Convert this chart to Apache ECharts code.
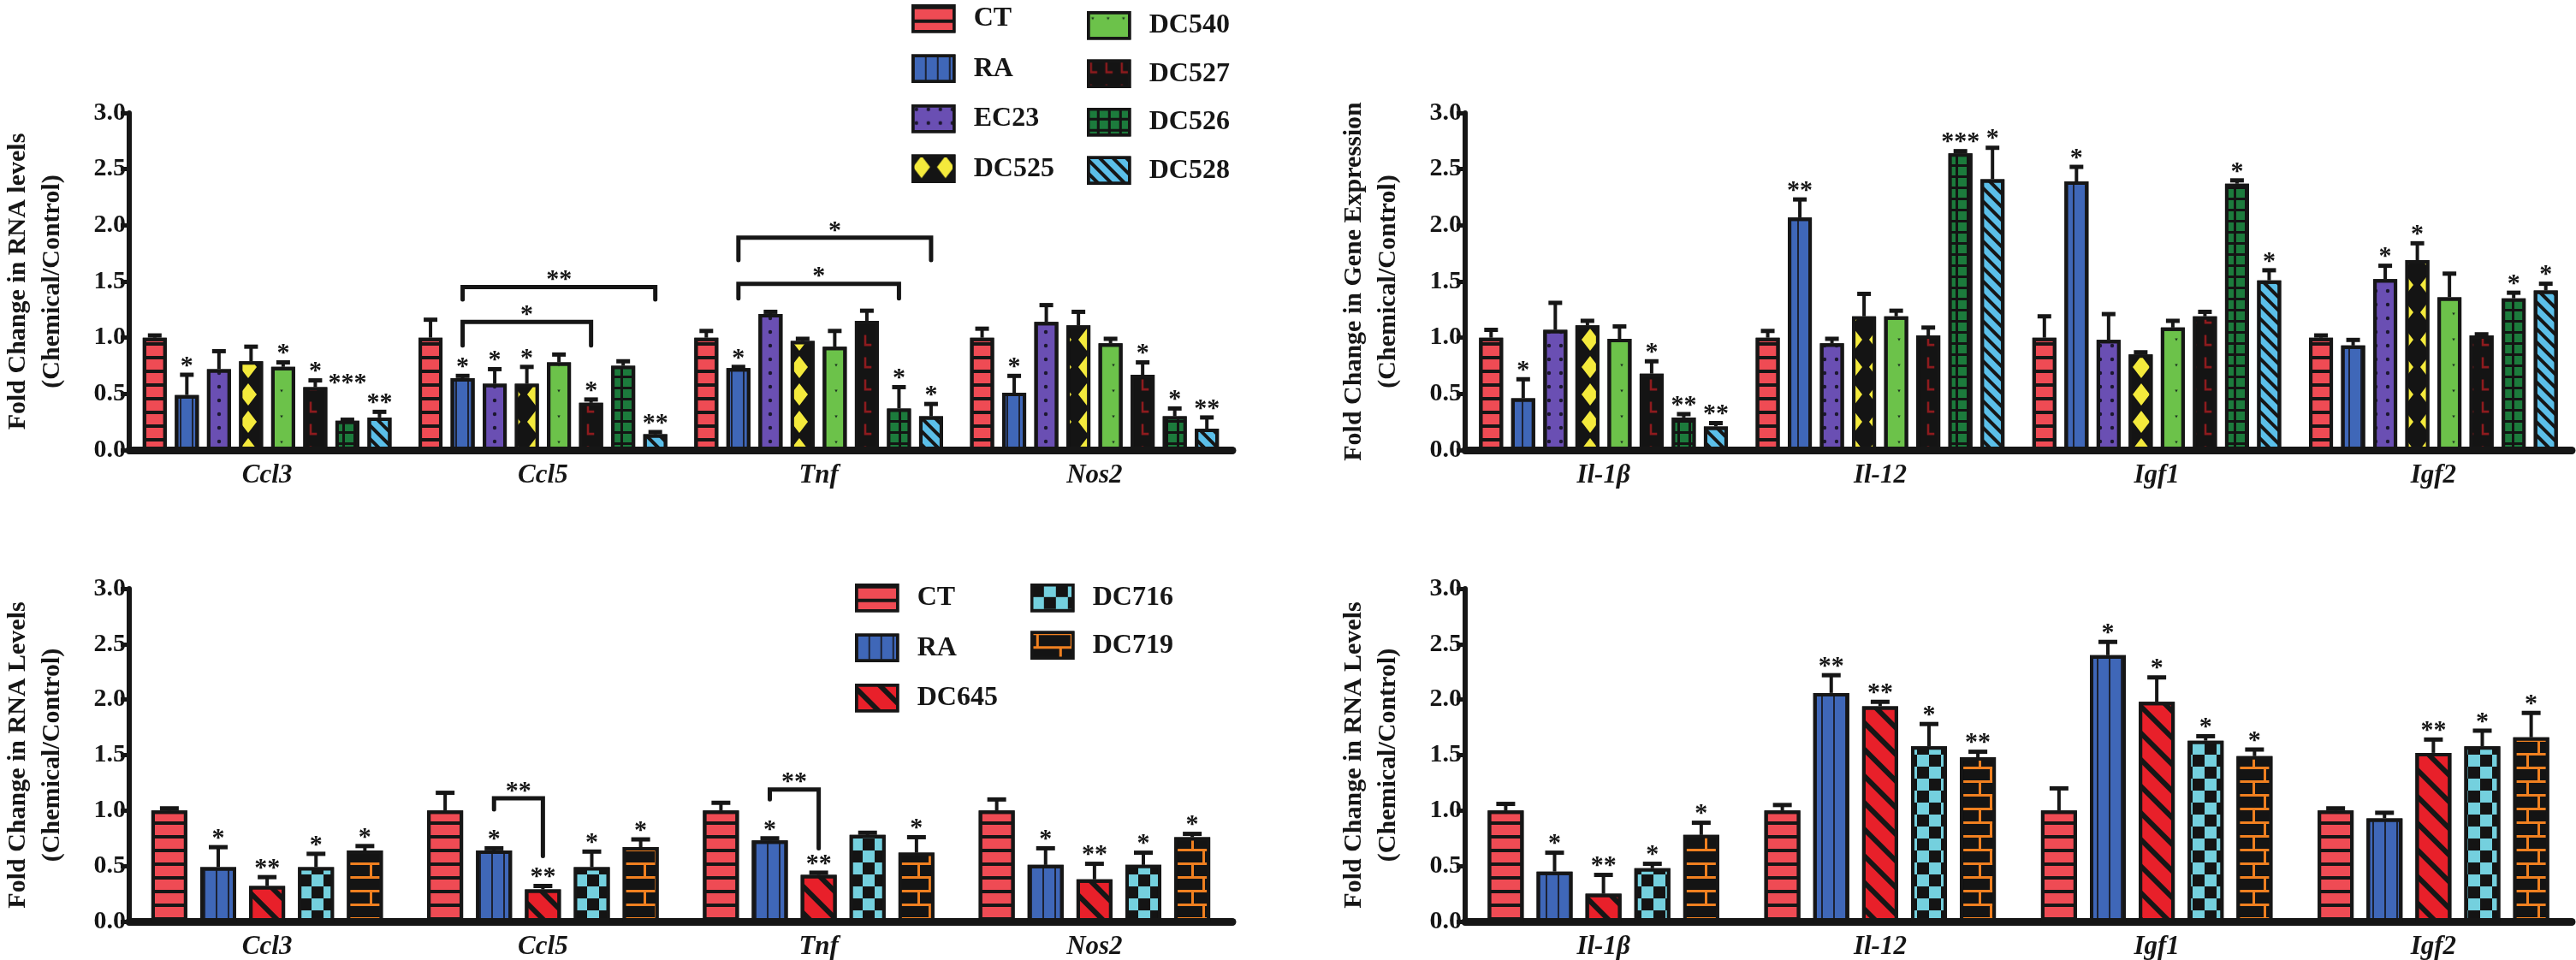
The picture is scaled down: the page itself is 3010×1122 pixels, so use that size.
<!DOCTYPE html>
<html><head><meta charset="utf-8">
<script src="https://cdn.jsdelivr.net/npm/echarts@6/dist/echarts.min.js"></script>
<style>html,body{margin:0;padding:0;background:#fff}#c{width:3010px;height:1122px}</style>
</head><body><div id="c"></div>
<script>
// ---------- DATA ----------
const topTreatments = ['CT','RA','EC23','DC525','DC540','DC527','DC526','DC528'];
const bottomTreatments = ['CT','RA','DC645','DC716','DC719'];
const inflammGenes = ['Ccl3','Ccl5','Tnf','Nos2'];
const growthGenes = ['Il-1β','Il-12','Igf1','Igf2'];
const yTickLabels = ['0.0','0.5','1.0','1.5','2.0','2.5','3.0'];

// Panel A (top-left): rows = treatments, columns = genes
const pAMean = [
  [1.00,1.00,1.00,1.00],
  [0.49,0.64,0.73,0.51],
  [0.72,0.59,1.21,1.14],
  [0.79,0.59,0.97,1.11],
  [0.74,0.78,0.92,0.95],
  [0.56,0.42,1.15,0.67],
  [0.26,0.75,0.37,0.30],
  [0.29,0.14,0.30,0.19]];
const pAErr = [
  [0.02,0.16,0.06,0.08],
  [0.18,0.02,0.01,0.15],
  [0.16,0.13,0.02,0.15],
  [0.13,0.15,0.02,0.12],
  [0.04,0.07,0.14,0.04],
  [0.06,0.03,0.09,0.11],
  [0.01,0.04,0.19,0.07],
  [0.05,0.02,0.11,0.10]];
const pASig = [
  ['','','',''],
  ['*','*','*','*'],
  ['','*','',''],
  ['','*','',''],
  ['*','','',''],
  ['*','*','','*'],
  ['***','','*','*'],
  ['**','**','*','**']];
// brackets: [gene, fromTreatment, toTreatment, level, leftDrop, rightDrop]
const pABrackets = [[1,1,5,1.14,0.93,0.93],[1,1,7,1.45,1.34,1.34],[2,1,6,1.48,1.35,1.35],[2,1,7,1.89,1.69,1.69]];
const pABracketSig = ['*','**','*','*'];

// Panel B (top-right)
const pBMean = [
  [1.00,1.00,1.00,1.00],
  [0.46,2.07,2.39,0.93],
  [1.07,0.95,0.98,1.52],
  [1.11,1.19,0.85,1.69],
  [0.99,1.19,1.09,1.36],
  [0.68,1.02,1.19,1.02],
  [0.29,2.64,2.37,1.35],
  [0.21,2.41,1.51,1.42]];
const pBErr = [
  [0.07,0.06,0.19,0.02],
  [0.17,0.16,0.13,0.05],
  [0.24,0.04,0.23,0.12],
  [0.04,0.20,0.02,0.15],
  [0.11,0.05,0.06,0.21],
  [0.11,0.07,0.04,0.01],
  [0.03,0.02,0.03,0.05],
  [0.03,0.28,0.09,0.06]];
const pBSig = [
  ['','','',''],
  ['*','**','*',''],
  ['','','','*'],
  ['','','','*'],
  ['','','',''],
  ['*','','',''],
  ['**','***','*','*'],
  ['**','*','*','*']];
const pBBrackets = [];
const pBBracketSig = [];

// Panel C (bottom-left)
const pCMean = [
  [1.00,1.00,1.00,1.00],
  [0.49,0.64,0.73,0.51],
  [0.32,0.29,0.42,0.38],
  [0.49,0.49,0.78,0.51],
  [0.64,0.67,0.62,0.76]];
const pCErr = [
  [0.02,0.16,0.07,0.10],
  [0.18,0.02,0.02,0.15],
  [0.08,0.03,0.02,0.14],
  [0.12,0.14,0.02,0.11],
  [0.04,0.07,0.14,0.03]];
const pCSig = [
  ['','','',''],
  ['*','*','*','*'],
  ['**','**','**','**'],
  ['*','*','','*'],
  ['*','*','*','*']];
const pCBrackets = [[1,1,2,1.11,1.01,0.59],[2,1,2,1.19,1.10,0.66]];
const pCBracketSig = ['**','**'];

// Panel D (bottom-right)
const pDMean = [
  [1.00,1.00,1.00,1.00],
  [0.45,2.06,2.40,0.93],
  [0.25,1.94,1.98,1.52],
  [0.48,1.58,1.63,1.58],
  [0.78,1.48,1.49,1.66]];
const pDErr = [
  [0.06,0.05,0.20,0.02],
  [0.17,0.16,0.12,0.05],
  [0.17,0.04,0.22,0.12],
  [0.04,0.20,0.04,0.14],
  [0.11,0.05,0.06,0.22]];
const pDSig = [
  ['','','',''],
  ['*','**','*',''],
  ['**','**','*','**'],
  ['*','*','*','*'],
  ['*','**','*','*']];
const pDBrackets = [];
const pDBracketSig = [];

// ---------- STYLE ----------
const FONT = '"Liberation Serif","Times New Roman",serif';
const INK = '#161616';
const styles = {
  CT:    {color:'#ef4b54', decal:{symbol:'rect', symbolSize:1, color:INK, dashArrayX:[1,0], dashArrayY:[4,12]}},
  RA:    {color:'#3f67b8', decal:{symbol:'rect', symbolSize:1, color:'#1c2233', dashArrayX:[2,12], dashArrayY:[1,0]}},
  EC23:  {color:'#6a4fb3', decal:{symbol:'circle', symbolSize:0.55, color:'#1d1830', dashArrayX:[[8,6]], dashArrayY:[8,8]}},
  DC525: {color:'#141414', decal:{symbol:'diamond', symbolSize:1, color:'#f4ea3c', dashArrayX:[[20,8]], dashArrayY:[26,6]}},
  DC540: {color:'#6cc24a', decal:{symbol:'path://M0,0H6L3,5Z', symbolSize:0.35, color:'#1d3320', dashArrayX:[[10,8]], dashArrayY:[14,16]}},
  DC527: {color:'#141414', decal:{symbol:'path://M0,0H3V12H10V15H0Z', symbolSize:0.8, color:'#8d1b1e', dashArrayX:[[12,6]], dashArrayY:[16,10]}},
  DC526: {color:'#141414', decal:{symbol:'rect', symbolSize:1, color:'#1c7b3c', dashArrayX:[[10,3]], dashArrayY:[10,3]}},
  DC528: {color:'#5bbfe9', decal:{symbol:'rect', symbolSize:1, color:INK, dashArrayX:[1,0], dashArrayY:[4,7], rotation:Math.PI/4}},
  DC645: {color:'#e8202a', decal:{symbol:'rect', symbolSize:1, color:INK, dashArrayX:[1,0], dashArrayY:[6,16], rotation:Math.PI/4}},
  DC716: {color:'#141414', decal:{symbol:'rect', symbolSize:1, color:'#74d0de', dashArrayX:[[14,14],[0,14,14,0]], dashArrayY:[14,0]}},
  DC719: {color:'#141414', decal:{symbol:'path://M0,0H40V3H0Z M5,0H8V16H5Z M0,16H40V19H0Z M32,16H35V32H32Z', symbolSize:1, color:'#f08020', dashArrayX:[40,0], dashArrayY:[32,0]}}
};
// extra lift (px) for crowded significance marks: key = panel,treatment,gene
const starLift = {'0,6,0': 32};

const panels = [
  {grid:{left:146, top:132, width:1294, height:394}, cats:inflammGenes, names:topTreatments, mean:pAMean, err:pAErr, sig:pASig, br:pABrackets, brSig:pABracketSig, bw:28, gap:0.34, cap:16, yName:'Fold Change in RNA levels\n(Chemical/Control)'},
  {grid:{left:1712, top:132, width:1293, height:394}, cats:growthGenes, names:topTreatments, mean:pBMean, err:pBErr, sig:pBSig, br:pBBrackets, brSig:pBBracketSig, bw:28, gap:0.34, cap:16, yName:'Fold Change in Gene Expression\n(Chemical/Control)'},
  {grid:{left:146, top:688, width:1294, height:392}, cats:inflammGenes, names:bottomTreatments, mean:pCMean, err:pCErr, sig:pCSig, br:pCBrackets, brSig:pCBracketSig, bw:42, gap:0.36, cap:22, yName:'Fold Change in RNA Levels\n(Chemical/Control)'},
  {grid:{left:1712, top:688, width:1293, height:392}, cats:growthGenes, names:bottomTreatments, mean:pDMean, err:pDErr, sig:pDSig, br:pDBrackets, brSig:pDBracketSig, bw:42, gap:0.36, cap:22, yName:'Fold Change in RNA Levels\n(Chemical/Control)'}
];

function offsetOf(p, i) {
  const n = p.names.length, g = p.bw * p.gap;
  const total = n * p.bw + (n - 1) * g;
  return -total / 2 + i * (p.bw + g) + p.bw / 2;
}

const grids = [], xAxes = [], yAxes = [], series = [];
panels.forEach((p, k) => {
  grids.push(p.grid);
  xAxes.push({type:'category', gridIndex:k, data:p.cats,
    axisLine:{lineStyle:{color:INK, width:9}}, axisTick:{show:false},
    axisLabel:{fontFamily:FONT, fontWeight:'bold', fontStyle:'italic', fontSize:31, color:INK, margin:14}});
  yAxes.push({type:'value', gridIndex:k, min:0, max:3, interval:0.5,
    name:p.yName, nameLocation:'middle', nameRotate:90, nameGap:70,
    nameTextStyle:{fontFamily:FONT, fontWeight:'bold', fontSize:30, lineHeight:40, color:INK},
    axisLine:{show:true, lineStyle:{color:INK, width:6}},
    axisTick:{show:true, length:10, lineStyle:{color:INK, width:5}},
    splitLine:{show:false},
    axisLabel:{fontFamily:FONT, fontWeight:'bold', fontSize:30, color:INK, margin:4,
      formatter:v => yTickLabels[Math.round(v / 0.5)]}});
  p.names.forEach((nm, i) => {
    series.push({type:'bar', name:nm, xAxisIndex:k, yAxisIndex:k, data:p.mean[i],
      barWidth:p.bw, barGap:(p.gap * 100) + '%', z:2, silent:true,
      itemStyle:{color:styles[nm].color, decal:styles[nm].decal, borderColor:INK, borderWidth:4}});
  });
  const items = [];
  p.names.forEach((nm, i) => p.cats.forEach((c, j) => items.push([j, i, p.mean[i][j], p.mean[i][j] + p.err[i][j]])));
  series.push({type:'custom', xAxisIndex:k, yAxisIndex:k, z:5, silent:true, data:items, encode:{x:0, y:[2,3]},
    renderItem:(params, api) => {
      const j = api.value(0), i = api.value(1);
      const base = api.coord([j, api.value(2)]);
      const top = api.coord([j, api.value(3)]);
      const x = base[0] + offsetOf(p, i);
      const ch = [
        {type:'line', shape:{x1:x, y1:base[1], x2:x, y2:top[1]}, style:{stroke:INK, lineWidth:4}},
        {type:'line', shape:{x1:x - p.cap / 2, y1:top[1], x2:x + p.cap / 2, y2:top[1]}, style:{stroke:INK, lineWidth:5}}
      ];
      const s = p.sig[i][j];
      const lift = starLift[k + ',' + i + ',' + j] || 0;
      if (s) ch.push({type:'text', style:{text:s, x:x, y:top[1] - 10 - lift, align:'center', verticalAlign:'middle',
        font:'bold 30px ' + FONT, fill:INK}});
      return {type:'group', children:ch};
    }});
  if (p.br.length) {
    series.push({type:'custom', xAxisIndex:k, yAxisIndex:k, z:6, silent:true, data:p.br, encode:{x:0, y:[3]},
      renderItem:(params, api) => {
        const j = api.value(0), a = api.value(1), b = api.value(2);
        const lv = api.coord([j, api.value(3)]);
        const yl = api.coord([j, api.value(4)])[1], yr = api.coord([j, api.value(5)])[1];
        const xl = lv[0] + offsetOf(p, a), xr = lv[0] + offsetOf(p, b);
        return {type:'group', children:[
          {type:'polyline', shape:{points:[[xl, yl], [xl, lv[1]], [xr, lv[1]], [xr, yr]]},
            style:{stroke:INK, lineWidth:5, fill:null, lineCap:'round', lineJoin:'miter'}},
          {type:'text', style:{text:p.brSig[params.dataIndex], x:(xl + xr) / 2, y:lv[1] - 8, align:'center', verticalAlign:'middle',
            font:'bold 30px ' + FONT, fill:INK}}
        ]};
      }});
  }
});

const legendBase = {orient:'vertical', icon:'rect', itemWidth:48, itemHeight:30, selectedMode:false,
  itemStyle:{borderColor:INK, borderWidth:3.5},
  textStyle:{fontFamily:FONT, fontWeight:'bold', fontSize:32, color:INK, padding:[0,0,0,18]}};
const legends = [
  Object.assign({}, legendBase, {left:1060, top:0, itemGap:25, data:['CT','RA','EC23','DC525']}),
  Object.assign({}, legendBase, {left:1265, top:8, itemGap:23, data:['DC540','DC527','DC526','DC528']}),
  Object.assign({}, legendBase, {left:994, top:677, itemGap:25, data:['CT','RA','DC645']}),
  Object.assign({}, legendBase, {left:1199, top:677, itemGap:22, data:['DC716','DC719']})
];

const chart = echarts.init(document.getElementById('c'), null, {renderer:'canvas'});
chart.setOption({animation:false, backgroundColor:'#fff', grid:grids, xAxis:xAxes, yAxis:yAxes, legend:legends, series:series});
</script></body></html>
